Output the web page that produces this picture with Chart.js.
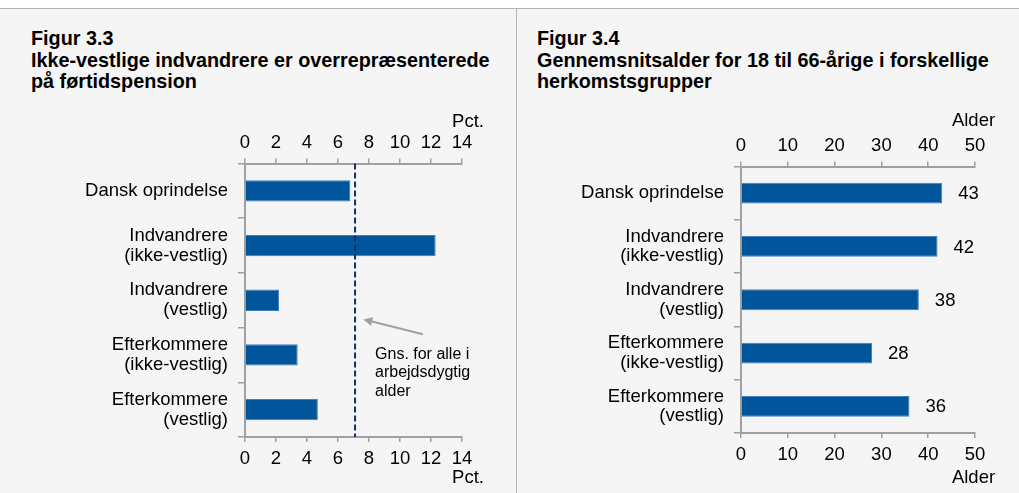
<!DOCTYPE html>
<html lang="da">
<head>
<meta charset="utf-8">
<title>Figur 3.3 og 3.4</title>
<script src="https://cdn.jsdelivr.net/npm/chart.js@4/dist/chart.umd.min.js"></script>
<style>
  body { margin: 0; width: 1019px; height: 493px; background: #fff; overflow: hidden;
         font-family: Arial, "Liberation Sans", sans-serif; }
  .panel { position: absolute; top: 8px; height: 484px; background: #f5f5f5; border-top: 1px solid #b4b4b4; }
  #left { left: 0; width: 516px; border-right: 1px solid #b4b4b4; }
  #right { left: 517px; width: 502px; }
  h2 { position: absolute; top: 19px; margin: 0; font-size: 19.8px; line-height: 21.7px; font-weight: bold; color: #000; }
  #left h2 { left: 31px; }
  #right h2 { left: 20px; }
  canvas { position: absolute; top: 91px; }
  #left canvas { left: 0; }
  #right canvas { left: 1px; }
</style>
</head>
<body>
<div class="panel" id="left">
  <h2>Figur 3.3<br>Ikke-vestlige indvandrere er overrepræsenterede<br>på førtidspension</h2>
  <canvas id="pensionChart" width="517" height="393"></canvas>
</div>
<div class="panel" id="right">
  <h2>Figur 3.4<br>Gennemsnitsalder for 18 til 66-årige i forskellige<br>herkomstsgrupper</h2>
  <canvas id="ageChart" width="501" height="393"></canvas>
</div>
<script>
// Herkomstgrupper
const categories = [
    'Dansk oprindelse',
    ['Indvandrere', '(ikke-vestlig)'],
    ['Indvandrere', '(vestlig)'],
    ['Efterkommere', '(ikke-vestlig)'],
    ['Efterkommere', '(vestlig)']
];

// Figur 3.3: andel på førtidspension (pct.)
const pensionPct = [6.8, 12.3, 2.2, 3.4, 4.7];
const pensionAvg = 7.1;
const pctTicks = [0, 2, 4, 6, 8, 10, 12, 14];
const avgNote = ['Gns. for alle i', 'arbejdsdygtig', 'alder'];

// Figur 3.4: gennemsnitsalder
const avgAge = [43, 42, 38, 28, 36];
const ageTicks = [0, 10, 20, 30, 40, 50];

const BLUE = '#00559b';
const AXIS = '#a0a0a0';
const FONT = 'Arial, "Liberation Sans", sans-serif';

Chart.defaults.font.family = FONT;
Chart.defaults.font.size = 18.5;
Chart.defaults.color = '#000';

// Værdiakse (top eller bund) med faste ticks
function valueAxis(position, ticks, height, padding) {
    return {
        type: 'linear',
        position: position,
        min: ticks[0],
        max: ticks[ticks.length - 1],
        afterBuildTicks: scale => { scale.ticks = ticks.map(v => ({ value: v })); },
        afterFit: scale => { scale.height = height; },
        grid: { drawOnChartArea: false, tickLength: 5, color: AXIS, lineWidth: 1.5 },
        border: { color: AXIS, width: 2 },
        ticks: { padding: padding, font: { size: 18.5 } }
    };
}

function categoryAxis(width) {
    return {
        type: 'category',
        offset: true,
        afterFit: scale => { scale.width = width; },
        grid: { offset: true, drawOnChartArea: false, tickLength: 7, color: AXIS, lineWidth: 1.5 },
        border: { color: AXIS, width: 2 },
        ticks: { padding: 10, autoSkip: false, font: { size: 18.5, lineHeight: 1.07 } }
    };
}

// Enhedstekst over og under akserne ("Pct.", "Alder")
const unitLabel = {
    id: 'unitLabel',
    afterDraw(chart, args, opts) {
        const { ctx } = chart;
        const x = chart.scales.x.getPixelForValue(chart.scales.x.max) + opts.dx;
        ctx.save();
        ctx.font = '18.5px ' + FONT;
        ctx.fillStyle = '#000';
        ctx.textAlign = 'center';
        ctx.textBaseline = 'middle';
        ctx.fillText(opts.text, x, opts.top);
        ctx.fillText(opts.text, x, opts.bottom);
        ctx.restore();
    }
};

// Stiplet gennemsnitslinje med pil og forklaring
const avgLine = {
    id: 'avgLine',
    afterDatasetsDraw(chart) {
        const { ctx, chartArea, scales } = chart;
        const x = scales.x.getPixelForValue(pensionAvg);
        ctx.save();
        ctx.strokeStyle = '#1c2b6a';
        ctx.lineWidth = 2;
        ctx.setLineDash([6, 3]);
        ctx.beginPath();
        ctx.moveTo(x, chartArea.top);
        ctx.lineTo(x, chartArea.bottom);
        ctx.stroke();
        ctx.setLineDash([]);

        // pil
        const x0 = scales.x.getPixelForValue(11.47), y0 = scales.y.getPixelForValue(2.62);
        const x1 = scales.x.getPixelForValue(7.63), y1 = scales.y.getPixelForValue(2.35);
        const ang = Math.atan2(y1 - y0, x1 - x0);
        const head = 10;
        ctx.strokeStyle = '#a0a0a0';
        ctx.fillStyle = '#a0a0a0';
        ctx.lineWidth = 2;
        ctx.beginPath();
        ctx.moveTo(x0, y0);
        ctx.lineTo(x1 - Math.cos(ang) * head * 0.8, y1 - Math.sin(ang) * head * 0.8);
        ctx.stroke();
        ctx.beginPath();
        ctx.moveTo(x1, y1);
        ctx.lineTo(x1 - head * Math.cos(ang - 0.45), y1 - head * Math.sin(ang - 0.45));
        ctx.lineTo(x1 - head * Math.cos(ang + 0.45), y1 - head * Math.sin(ang + 0.45));
        ctx.closePath();
        ctx.fill();

        // tekst
        const tx = scales.x.getPixelForValue(8.39);
        let ty = scales.y.getPixelForValue(2.99);
        ctx.font = '16px ' + FONT;
        ctx.fillStyle = '#000';
        ctx.textAlign = 'left';
        ctx.textBaseline = 'middle';
        avgNote.forEach(line => {
            ctx.fillText(line, tx, ty);
            ty += 18.5;
        });
        ctx.restore();
    }
};

// Værdier til højre for søjlerne
const barValues = {
    id: 'barValues',
    afterDatasetsDraw(chart) {
        const { ctx } = chart;
        const meta = chart.getDatasetMeta(0);
        ctx.save();
        ctx.font = '18.5px ' + FONT;
        ctx.fillStyle = '#000';
        ctx.textAlign = 'left';
        ctx.textBaseline = 'middle';
        meta.data.forEach((bar, i) => {
            ctx.fillText(String(chart.data.datasets[0].data[i]), bar.x + 16, bar.y + 1);
        });
        ctx.restore();
    }
};

function barDataset(values) {
    return {
        data: values,
        backgroundColor: BLUE,
        borderColor: '#3f7fbd',
        borderWidth: 1,
        borderSkipped: 'start',
        barPercentage: 0.39,
        categoryPercentage: 1
    };
}

function baseOptions(layoutRight) {
    return {
        indexAxis: 'y',
        responsive: false,
        animation: false,
        events: [],
        layout: { padding: { left: 0, right: layoutRight, top: 0, bottom: 0 } },
        plugins: { legend: { display: false }, tooltip: { enabled: false } }
    };
}

// Figur 3.3
const pensionOpts = baseOptions(55);
pensionOpts.scales = {
    y: categoryAxis(245),
    x: valueAxis('bottom', pctTicks, 56, 6),
    xTop: valueAxis('top', pctTicks, 63.5, 4.5)
};
pensionOpts.plugins.unitLabel = { text: 'Pct.', dx: 6, top: 22, bottom: 378 };
new Chart(document.getElementById('pensionChart').getContext('2d'), {
    type: 'bar',
    data: { labels: categories, datasets: [barDataset(pensionPct)] },
    options: pensionOpts,
    plugins: [avgLine, unitLabel]
});

// Figur 3.4
const ageOpts = baseOptions(44);
ageOpts.scales = {
    y: categoryAxis(223),
    x: valueAxis('bottom', ageTicks, 60, 6),
    xTop: valueAxis('top', ageTicks, 66.5, 4.5)
};
ageOpts.plugins.unitLabel = { text: 'Alder', dx: -1.5, top: 21, bottom: 378 };
new Chart(document.getElementById('ageChart').getContext('2d'), {
    type: 'bar',
    data: { labels: categories, datasets: [barDataset(avgAge)] },
    options: ageOpts,
    plugins: [barValues, unitLabel]
});
</script>
</body>
</html>
